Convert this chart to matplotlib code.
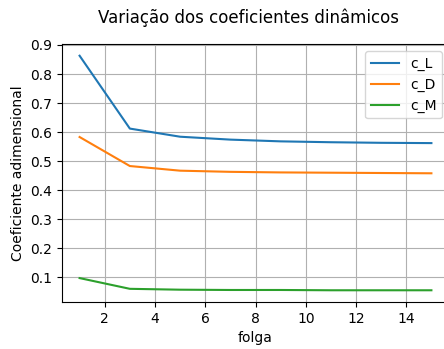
import matplotlib
matplotlib.use("Agg")
import matplotlib.pyplot as plt

folga = [1, 3, 5, 7, 9, 11, 13, 15]
c_L = [0.863, 0.612, 0.584, 0.574, 0.568, 0.565, 0.563, 0.562]
c_D = [0.583, 0.483, 0.467, 0.463, 0.461, 0.460, 0.459, 0.458]
c_M = [0.097, 0.060, 0.057, 0.056, 0.056, 0.055, 0.055, 0.055]

fig = plt.figure(figsize=(4.44, 3.49), dpi=100)
ax = fig.add_axes([62 / 444, 1 - 302 / 349, (449 - 62) / 444, (302 - 44) / 349])

ax.plot(folga, c_L, label="c_L")
ax.plot(folga, c_D, label="c_D")
ax.plot(folga, c_M, label="c_M")

ax.set_xticks([2, 4, 6, 8, 10, 12, 14])
ax.set_yticks([0.1, 0.2, 0.3, 0.4, 0.5, 0.6, 0.7, 0.8, 0.9])
ax.set_xlabel("folga")
ax.set_ylabel("Coeficiente adimensional")
ax.grid(True)
ax.legend(loc="upper right")
fig.suptitle("Variação dos coeficientes dinâmicos", x=248 / 444, y=1 - 18 / 349, va="center")

fig.savefig("out.png", dpi=100)
